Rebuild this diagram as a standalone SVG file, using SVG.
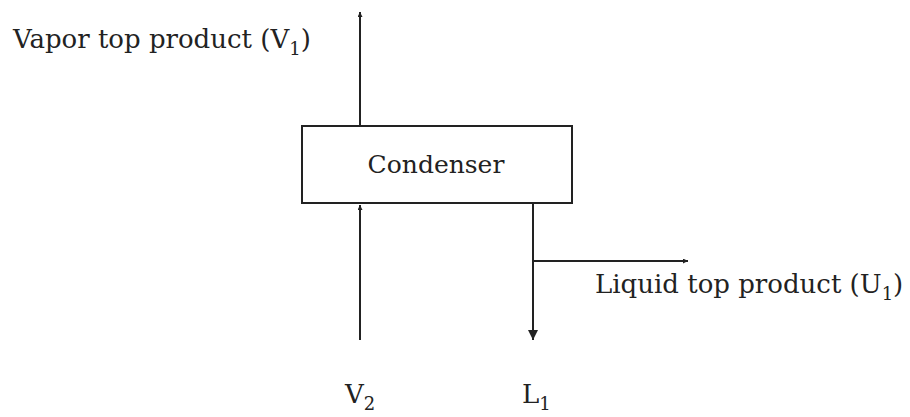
<svg xmlns="http://www.w3.org/2000/svg" width="910" height="417" viewBox="0 0 910 417">
<style>
.t{font-family:"DejaVu Serif","Liberation Serif",serif;font-size:26px;fill:#222}
.c{font-size:25px}
.s{font-size:18px}
.ln{stroke:#222;stroke-width:2;fill:none}
</style>
<defs>
<marker id="ah" viewBox="0 0 10 10" refX="10" refY="5" markerWidth="5" markerHeight="5" orient="auto" markerUnits="userSpaceOnUse">
<path d="M0,0 L10,5 L0,10 z" fill="#222"/>
</marker>
<marker id="ahs" viewBox="0 0 10 10" refX="10" refY="5" markerWidth="10" markerHeight="10" orient="auto" markerUnits="userSpaceOnUse">
<path d="M0,0 L10,5 L0,10 z" fill="#222"/>
</marker>
</defs>
<g id="condenser">
<rect x="302" y="126" width="270" height="77" class="ln"/>
<text x="436" y="173" text-anchor="middle" class="t c">Condenser</text>
</g>
<g id="connectors">
<line x1="360" y1="126" x2="360" y2="12" class="ln" marker-end="url(#ah)"/>
<line x1="360" y1="340" x2="360" y2="205" class="ln" marker-end="url(#ah)"/>
<line x1="533" y1="203" x2="533" y2="340" class="ln" marker-end="url(#ahs)"/>
<line x1="533" y1="261" x2="688" y2="261" class="ln" marker-end="url(#ah)"/>
</g>
<g id="vapor-label">
<text x="13" y="48" class="t">Vapor top product (V<tspan class="s" dy="7">1</tspan><tspan dy="-7">)</tspan></text>
</g>
<g id="liquid-label">
<text x="595" y="293" class="t">Liquid top product (U<tspan class="s" dy="7">1</tspan><tspan dy="-7">)</tspan></text>
</g>
<g id="v2-label">
<text x="345" y="403" class="t">V<tspan class="s" dy="7">2</tspan></text>
</g>
<g id="l1-label">
<text x="522" y="403" class="t">L<tspan class="s" dy="7">1</tspan></text>
</g>
</svg>
